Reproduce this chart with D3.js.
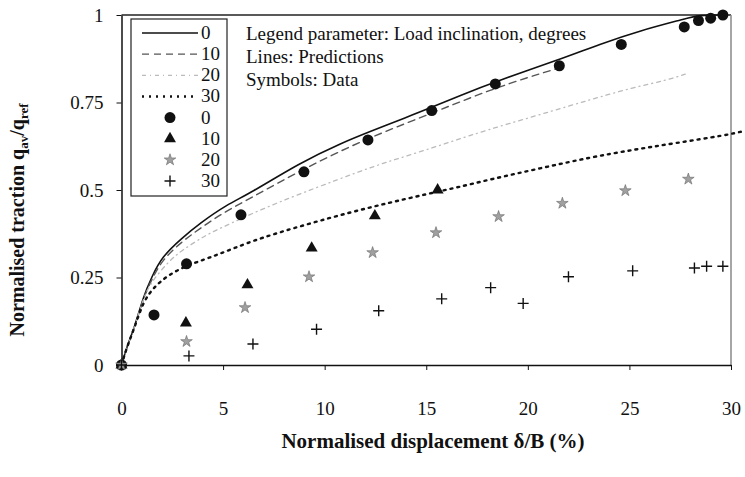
<!DOCTYPE html>
<html>
<head>
<meta charset="utf-8">
<script src="https://cdn.jsdelivr.net/npm/d3@7"></script>
<style>
  body { margin: 0; background: #fff; }
  svg text { font-family: 'Liberation Serif', 'Times New Roman', 'DejaVu Serif', serif; fill: #111; }
</style>
</head>
<body>
<svg id="chart" width="745" height="477"></svg>
<script>
// predictions, [displacement %, normalised traction]
var line0 = [[0,0],[0.26,0.052],[0.66,0.11],[1.07,0.195],[1.49,0.252],[2.0,0.31],[2.96,0.362],[3.86,0.405],[5.18,0.458],[6.32,0.49],[8.78,0.578],[10.9,0.636],[12.23,0.667],[14.0,0.707],[15.27,0.736],[16.66,0.77],[18.4,0.81],[21.58,0.873],[23.55,0.917],[25.5,0.955],[27.8,0.99],[28.4,1.0],[29.6,1.0]];
var line10 = [[0,0],[0.26,0.052],[0.66,0.11],[1.07,0.19],[1.49,0.245],[2.0,0.3],[2.96,0.352],[3.86,0.39],[5.0,0.435],[6.3,0.475],[9.1,0.565],[12.1,0.648],[15.27,0.719],[18.4,0.793],[21.6,0.85]];
var line20 = [[0,0],[0.26,0.05],[0.66,0.11],[1.07,0.19],[1.49,0.24],[2.39,0.3],[2.96,0.327],[4.03,0.367],[4.68,0.386],[7.14,0.452],[9.6,0.507],[11.57,0.55],[13.05,0.58],[14.7,0.609],[16.33,0.64],[17.97,0.671],[20.1,0.707],[22.2,0.743],[23.55,0.766],[25.2,0.793],[26.8,0.813],[27.8,0.832]];
var line30 = [[0,0],[0.26,0.05],[0.66,0.11],[1.07,0.18],[1.55,0.22],[2.29,0.257],[3.2,0.284],[4.36,0.307],[5.5,0.333],[6.8,0.362],[9.11,0.402],[11.24,0.436],[13.2,0.464],[15.0,0.488],[16.5,0.507],[18.13,0.53],[20.6,0.562],[23.05,0.593],[25.2,0.615],[27.15,0.633],[29.8,0.657],[30.6,0.668]];

// measured data
var data0 = [[0,0],[1.6,0.143],[3.2,0.289],[5.88,0.429],[8.98,0.552],[12.13,0.643],[15.27,0.727],[18.4,0.803],[21.55,0.855],[24.6,0.916],[27.7,0.966],[28.4,0.984],[29.0,0.991],[29.6,1.0]];
var data10 = [[0,0],[3.17,0.12],[6.2,0.229],[9.36,0.334],[12.47,0.426],[15.56,0.5]];
var data20 = [[0,0],[3.2,0.067],[6.08,0.164],[9.23,0.252],[12.36,0.321],[15.48,0.378],[18.56,0.424],[21.7,0.462],[24.8,0.498],[27.9,0.531]];
var data30 = [[0,0],[3.32,0.026],[6.47,0.06],[9.6,0.102],[12.66,0.155],[15.76,0.189],[18.17,0.221],[19.77,0.176],[22.0,0.252],[25.16,0.269],[28.2,0.277],[28.8,0.282],[29.6,0.282]];

var xTicks = [0, 5, 10, 15, 20, 25, 30];
var yTicks = [0, 0.25, 0.5, 0.75, 1];
var yTickLabels = ["0", "0.25", "0.5", "0.75", "1"];
var legendLabels = ["0", "10", "20", "30"];
var notes = ["Legend parameter: Load inclination, degrees", "Lines: Predictions", "Symbols: Data"];

var FONT = "'Liberation Serif', 'Times New Roman', 'DejaVu Serif', serif";
var svg = d3.select('#chart');
var x = d3.scaleLinear().domain([0, 30]).range([121.5, 731]);
var y = d3.scaleLinear().domain([0, 1]).range([365, 15]);

// line styles for the four predictions
var lineStyles = [
    {data: line0, stroke: '#111', width: 1.6, dash: null},
    {data: line10, stroke: '#555', width: 1.4, dash: '7,5'},
    {data: line20, stroke: '#bbb', width: 1.3, dash: '4,4,1,4'},
    {data: line30, stroke: '#111', width: 2.4, dash: '2,5'}
];

// frame: top and right borders
svg.append('line').attr('x1', x(0)).attr('x2', x(30)).attr('y1', y(1)).attr('y2', y(1))
    .attr('stroke', '#222').attr('stroke-width', 1.5);
svg.append('line').attr('x1', x(30)).attr('x2', x(30)).attr('y1', y(1)).attr('y2', y(0))
    .attr('stroke', '#888').attr('stroke-width', 1.5);

var xAxis = svg.append('g').attr('transform', 'translate(0,' + y(0) + ')')
    .call(d3.axisBottom(x).tickValues(xTicks).tickFormat(d3.format('d'))
        .tickSizeInner(5).tickSizeOuter(0).tickPadding(32));
var yAxis = svg.append('g').attr('transform', 'translate(' + x(0) + ',0)')
    .call(d3.axisLeft(y).tickValues(yTicks).tickFormat(function(d, i){ return yTickLabels[i]; })
        .tickSizeInner(5).tickSizeOuter(0).tickPadding(13));
[xAxis, yAxis].forEach(function(a){
    a.attr('font-family', null);
    a.select('.domain').attr('stroke', '#111').attr('stroke-width', 1.5);
    a.selectAll('.tick line').attr('stroke', '#111');
    a.selectAll('.tick text').style('font-family', FONT)
        .style('font-size', '19px').attr('fill', '#111');
});

var lineGen = d3.line().x(function(d){ return x(d[0]); }).y(function(d){ return y(d[1]); })
    .curve(d3.curveBasis);

lineStyles.forEach(function(s){
    svg.append('path').datum(s.data).attr('d', lineGen)
        .attr('fill', 'none').attr('stroke', s.stroke)
        .attr('stroke-width', s.width).attr('stroke-dasharray', s.dash)
        .attr('stroke-linecap', 'round');
});

// marker drawers
function drawMarker(g, kind){
    if (kind === 0){
        g.append('circle').attr('r', 5.5).attr('fill', '#111');
    } else if (kind === 1){
        g.append('path').attr('d', d3.symbol().type(d3.symbolTriangle).size(62)())
            .attr('fill', '#111');
    } else if (kind === 2){
        g.append('path').attr('d', d3.symbol().type(d3.symbolStar).size(42)())
            .attr('fill', '#a0a0a0').attr('stroke', '#666').attr('stroke-width', 0.6);
    } else {
        g.append('path').attr('d', 'M-5.5,0H5.5M0,-5.5V5.5')
            .attr('stroke', '#111').attr('stroke-width', 1.4);
    }
}

[data0, data10, data20, data30].forEach(function(ds, k){
    svg.append('g').selectAll('g').data(ds).enter().append('g')
        .attr('transform', function(d){ return 'translate(' + x(d[0]) + ',' + y(d[1]) + ')'; })
        .each(function(){ drawMarker(d3.select(this), k); });
});

// legend box
var legend = svg.append('g');
legend.append('rect').attr('x', 131).attr('y', 19).attr('width', 96).attr('height', 177)
    .attr('fill', '#fff').attr('stroke', '#222').attr('stroke-width', 1.2);
var rowY = d3.scaleLinear().domain([0, 7]).range([33, 181]);
lineStyles.forEach(function(s, i){
    legend.append('line').attr('x1', 142).attr('x2', 198).attr('y1', rowY(i)).attr('y2', rowY(i))
        .attr('stroke', s.stroke).attr('stroke-width', s.width).attr('stroke-dasharray', s.dash);
});
for (var i = 0; i < 4; i++){
    var m = legend.append('g').attr('transform', 'translate(170,' + rowY(i + 4) + ')');
    drawMarker(m, i);
}
legendLabels.concat(legendLabels).forEach(function(t, i){
    legend.append('text').attr('x', 201).attr('y', rowY(i) + 6)
        .style('font-family', FONT).style('font-size', '19px').text(t);
});

// notes
notes.forEach(function(t, i){
    svg.append('text').attr('x', 246).attr('y', 40 + i * 23)
        .style('font-family', FONT).style('font-size', '19px').text(t);
});

// axis titles
var xt = svg.append('text').attr('x', 433).attr('y', 448).attr('text-anchor', 'middle')
    .style('font-family', FONT).style('font-size', '21px').style('font-weight', 'bold');
xt.append('tspan').text('Normalised displacement ');
xt.append('tspan').text('\u03b4/B (%)');

var yt = svg.append('text').attr('transform', 'translate(24,220) rotate(-90)')
    .attr('text-anchor', 'middle').style('font-family', FONT)
    .style('font-size', '20px').style('font-weight', 'bold');
yt.append('tspan').text('Normalised traction q');
yt.append('tspan').attr('dy', 4).style('font-size', '13px').text('av');
yt.append('tspan').attr('dy', -4).text('/q');
yt.append('tspan').attr('dy', 4).style('font-size', '13px').text('ref');
</script>
</body>
</html>
